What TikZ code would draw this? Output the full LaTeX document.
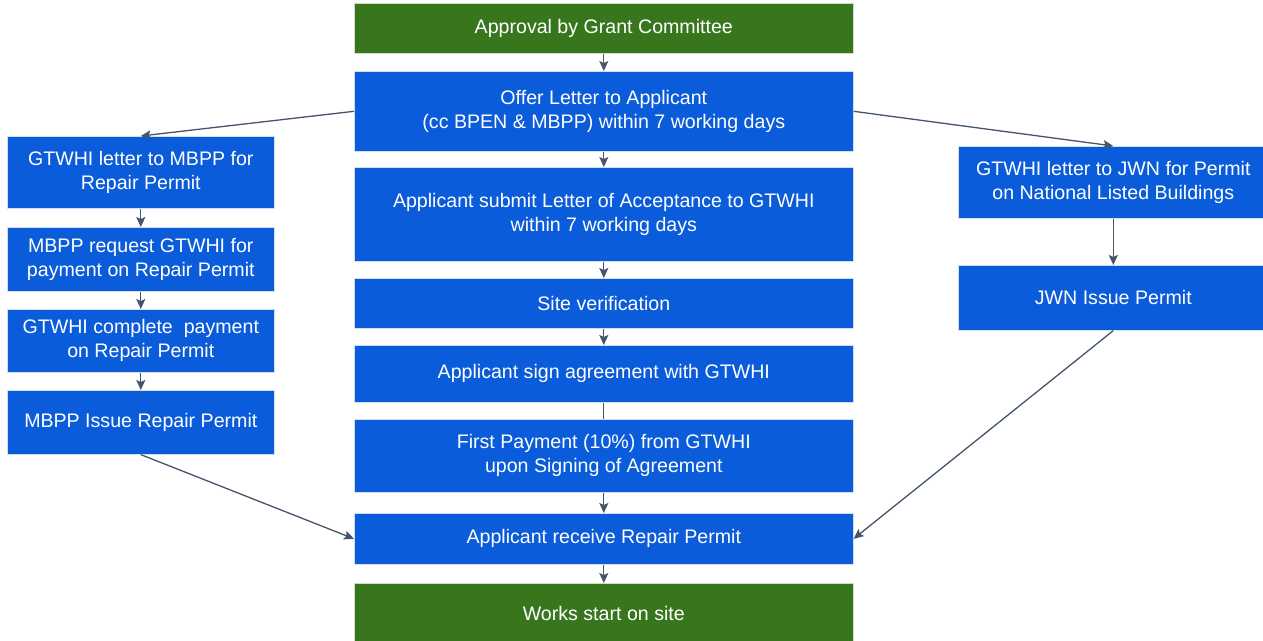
\documentclass[tikz,border=0pt]{standalone}
\usepackage{fontspec}
\setmainfont{Liberation Sans}
\usetikzlibrary{arrows.meta}

\definecolor{stepblue}{HTML}{0B5CDA}
\definecolor{stepgreen}{HTML}{38761D}
\definecolor{linkgray}{HTML}{44546A}

\tikzset{
  stepbox/.style={rectangle, fill=stepblue, draw=white!80!stepblue, line width=0.6pt,
    text=white, align=center, inner sep=0pt, anchor=north west,
    font=\fontsize{19.6}{24}\selectfont},
  endbox/.style={stepbox, fill=stepgreen, draw=white!75!stepgreen},
  link/.style={draw=linkgray, line width=1.3pt, -{Stealth[length=10pt,width=9pt,inset=2pt]}},
}

\begin{document}
\begin{tikzpicture}[x=1pt, y=-1pt]
  \useasboundingbox (0,0) rectangle (1263,640);

  % centre column
  \node [endbox, minimum width=499pt, minimum height=50pt] (approval) at (354,3) {Approval by Grant Committee};
  \node [stepbox, minimum width=499pt, minimum height=80pt] (offer) at (354,71) {Offer Letter to Applicant\\(cc BPEN \& MBPP) within 7 working days};
  \node [stepbox, minimum width=499pt, minimum height=94pt] (accept) at (354,167) {Applicant submit Letter of Acceptance to GTWHI\\within 7 working days};
  \node [stepbox, minimum width=499pt, minimum height=50pt] (site) at (354,278) {Site verification};
  \node [stepbox, minimum width=499pt, minimum height=57pt] (sign) at (354,345) {Applicant sign agreement with GTWHI};
  \node [stepbox, minimum width=499pt, minimum height=73pt] (first) at (354,419) {First Payment (10\%) from GTWHI\\upon Signing of Agreement};
  \node [stepbox, minimum width=499pt, minimum height=51pt] (receive) at (354,513) {Applicant receive Repair Permit};
  \node [endbox, minimum width=499pt, minimum height=60pt] (works) at (354,583) {Works start on site};

  % left column
  \node [stepbox, minimum width=267pt, minimum height=72pt] (mbppletter) at (7,136) {GTWHI letter to MBPP for\\Repair Permit};
  \node [stepbox, minimum width=267pt, minimum height=64pt] (mbpprequest) at (7,227) {MBPP request GTWHI for\\payment on Repair Permit};
  \node [stepbox, minimum width=267pt, minimum height=63pt] (payment) at (7,309) {GTWHI complete~ payment\\on Repair Permit};
  \node [stepbox, minimum width=267pt, minimum height=64pt] (mbppissue) at (7,390) {MBPP Issue Repair Permit};

  % right column
  \node [stepbox, minimum width=310pt, minimum height=72pt] (jwnletter) at (958,146) {GTWHI letter to JWN for Permit\\on National Listed Buildings};
  \node [stepbox, minimum width=310pt, minimum height=65pt] (jwnissue) at (958,265) {JWN Issue Permit};

  \draw [link] (approval) -- (offer);
  \draw [link] (offer) -- (accept);
  \draw [link] (accept) -- (site);
  \draw [link] (site) -- (sign);
  \draw [link, -] (sign) -- (first);
  \draw [link] (first) -- (receive);
  \draw [link] (receive) -- (works);

  \draw [link] (offer.west) -- (mbppletter.north);
  \draw [link] (mbppletter) -- (mbpprequest);
  \draw [link] (mbpprequest) -- (payment);
  \draw [link] (payment) -- (mbppissue);
  \draw [link] (mbppissue.south) -- (receive.west);

  \draw [link] (offer.east) -- (jwnletter.north);
  \draw [link] (jwnletter) -- (jwnissue);
  \draw [link] (jwnissue.south) -- (receive.east);
\end{tikzpicture}
\end{document}
